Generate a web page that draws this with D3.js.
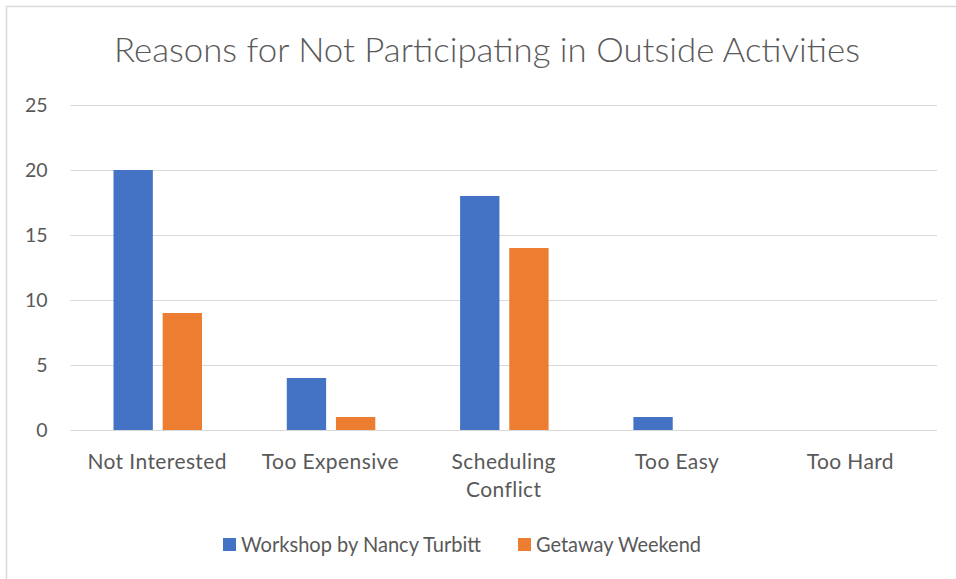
<!DOCTYPE html>
<html>
<head>
<meta charset="utf-8">
<script src="https://cdn.jsdelivr.net/npm/d3@7"></script>
<style>
    body { margin: 0; background: #fff; }
    text { font-family: Lato, "Open Sans", sans-serif; fill: #595959; }
</style>
</head>
<body>
<svg id="chart"></svg>
<script>
const categories = ["Not Interested", "Too Expensive", "Scheduling Conflict", "Too Easy", "Too Hard"];
const workshop = [20, 4, 18, 1, 0];
const getaway = [9, 1, 14, 0, 0];
const seriesNames = ["Workshop by Nancy Turbitt", "Getaway Weekend"];
const colors = ["#4472C4", "#ED7D31"];
const yTicks = [0, 5, 10, 15, 20, 25];

const W = 956, H = 579;
const margin = { top: 105, right: 19, bottom: 149, left: 70.5 };
const width = W - margin.left - margin.right;
const height = H - margin.top - margin.bottom;

const root = d3.select("#chart").attr("width", W).attr("height", H);

// chart border (top + left visible)
root.append("path")
    .attr("d", `M6.5,${H} V6.5 H${W}`)
    .attr("fill", "none")
    .attr("stroke", "#D9D9D9")
    .attr("stroke-width", 1.5);

root.append("text")
    .attr("x", 487)
    .attr("y", 62)
    .attr("text-anchor", "middle")
    .style("font-size", "34px")
    .style("font-weight", 300)
    .attr("textLength", 746)
    .attr("lengthAdjust", "spacingAndGlyphs")
    .text("Reasons for Not Participating in Outside Activities");

const svg = root.append("g")
    .attr("transform", `translate(${margin.left}, ${margin.top})`);

const x = d3.scaleBand()
    .domain(categories)
    .range([0, width])
    .paddingInner(0)
    .paddingOuter(0);

const x1 = d3.scaleBand()
    .domain(seriesNames)
    .range([43, 131.5])
    .paddingInner(0.2);

const y = d3.scaleLinear()
    .domain([0, 25])
    .range([height, 0]);

// gridlines
svg.append("g")
    .selectAll("line")
    .data(yTicks)
    .join("line")
    .attr("x1", 0)
    .attr("x2", width)
    .attr("y1", d => Math.round(y(d)) + 0.5)
    .attr("y2", d => Math.round(y(d)) + 0.5)
    .attr("stroke", "#D9D9D9")
    .attr("stroke-width", 1.2);

// y labels
svg.append("g")
    .selectAll("text")
    .data(yTicks)
    .join("text")
    .attr("x", -23)
    .attr("y", d => y(d) + 7)
    .attr("text-anchor", "end")
    .style("font-size", "19.5px")
    .text(d => d);

const data = categories.map((c, i) => ({ cat: c, vals: [workshop[i], getaway[i]] }));

const groups = svg.selectAll("g.cat")
    .data(data)
    .join("g")
    .attr("class", "cat")
    .attr("transform", d => `translate(${x(d.cat)}, 0)`);

groups.selectAll("rect")
    .data(d => d.vals.map((v, j) => ({ name: seriesNames[j], value: v, j: j })))
    .join("rect")
    .attr("x", d => x1(d.name))
    .attr("width", x1.bandwidth())
    .attr("y", d => y(d.value))
    .attr("height", d => height - y(d.value))
    .attr("fill", d => colors[d.j]);

// category labels (wrap long ones)
const labelLines = { "Scheduling Conflict": ["Scheduling", "Conflict"] };
categories.forEach(c => {
    const lines = labelLines[c] || [c];
    const t = svg.append("text")
        .attr("x", x(c) + x.bandwidth() / 2)
        .attr("y", height + 39)
        .attr("text-anchor", "middle")
        .style("font-size", "21px")
        .style("letter-spacing", "0.4px");
    lines.forEach((l, k) => {
        t.append("tspan")
            .attr("x", x(c) + x.bandwidth() / 2)
            .attr("dy", k === 0 ? 0 : 28)
            .text(l);
    });
});

// legend
const legendItems = [
    { name: seriesNames[0], sx: 223, tx: 241, len: 240 },
    { name: seriesNames[1], sx: 518, tx: 536, len: 165 }
];
const legend = root.append("g");
legendItems.forEach((d, i) => {
    legend.append("rect")
        .attr("x", d.sx)
        .attr("y", 538)
        .attr("width", 13)
        .attr("height", 13)
        .attr("fill", colors[i]);
    legend.append("text")
        .attr("x", d.tx)
        .attr("y", 552)
        .style("font-size", "21px")
        .attr("textLength", d.len)
        .attr("lengthAdjust", "spacingAndGlyphs")
        .text(d.name);
});
</script>
</body>
</html>
